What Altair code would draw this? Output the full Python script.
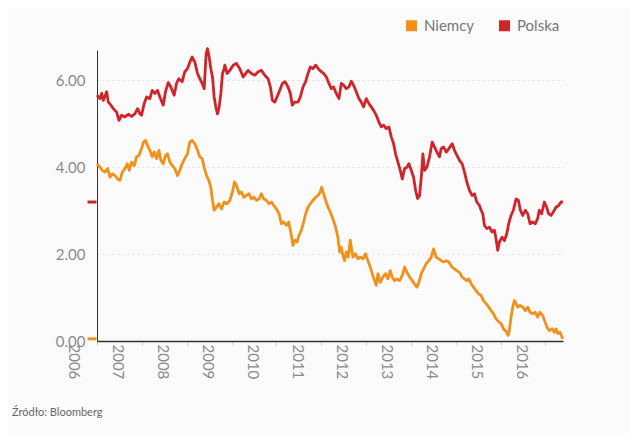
import altair as alt
import pandas as pd

# ---- data (decimal year, yield %) ----
pl_t = [2006.000, 2006.067, 2006.104, 2006.141, 2006.215, 2006.252, 2006.312, 2006.364, 2006.438, 2006.490,
        2006.549, 2006.624, 2006.698, 2006.772, 2006.846, 2006.906, 2006.958, 2006.995, 2007.054, 2007.106,
        2007.180, 2007.232, 2007.292, 2007.351, 2007.403, 2007.477, 2007.529, 2007.589, 2007.648, 2007.722,
        2007.774, 2007.826, 2007.901, 2007.960, 2008.019, 2008.071, 2008.123, 2008.183, 2008.242, 2008.294,
        2008.346, 2008.391, 2008.435, 2008.465, 2008.502, 2008.539, 2008.576, 2008.613, 2008.650, 2008.687,
        2008.725, 2008.762, 2008.799, 2008.836, 2008.850, 2008.902, 2008.962, 2009.036, 2009.110, 2009.184,
        2009.259, 2009.318, 2009.370, 2009.444, 2009.519, 2009.593, 2009.667, 2009.741, 2009.815, 2009.867,
        2009.912, 2009.964, 2010.016, 2010.075, 2010.135, 2010.194, 2010.261, 2010.313, 2010.357, 2010.409,
        2010.484, 2010.536, 2010.595, 2010.654, 2010.706, 2010.758, 2010.818, 2010.877, 2010.936, 2011.003,
        2011.055, 2011.115, 2011.174, 2011.226, 2011.278, 2011.337, 2011.397, 2011.449, 2011.501, 2011.560,
        2011.620, 2011.672, 2011.724, 2011.783, 2011.843, 2011.895, 2011.947, 2012.006, 2012.065, 2012.117,
        2012.169, 2012.229, 2012.288, 2012.340, 2012.392, 2012.451, 2012.511, 2012.563, 2012.615, 2012.659,
        2012.711, 2012.763, 2012.808, 2012.860, 2012.912, 2012.956, 2013.008, 2013.060, 2013.105, 2013.149,
        2013.194, 2013.238, 2013.268, 2013.305, 2013.357, 2013.416, 2013.476, 2013.528, 2013.580, 2013.639,
        2013.676, 2013.728, 2013.788, 2013.847, 2013.921, 2013.973, 2014.025, 2014.085, 2014.144, 2014.196,
        2014.248, 2014.307, 2014.367, 2014.419, 2014.471, 2014.530, 2014.567, 2014.604, 2014.642, 2014.693,
        2014.753, 2014.812, 2014.864, 2014.901, 2014.938, 2014.976, 2015.035, 2015.087, 2015.139, 2015.183,
        2015.235, 2015.287, 2015.347, 2015.399, 2015.443, 2015.495, 2015.555, 2015.607, 2015.659, 2015.718,
        2015.777, 2015.829, 2015.866, 2015.918, 2015.978, 2016.030, 2016.074, 2016.126, 2016.178, 2016.238,
        2016.297, 2016.349, 2016.394]
pl_v = [5.66, 5.58, 5.70, 5.54, 5.74, 5.50, 5.43, 5.35, 5.27, 5.08,
        5.20, 5.16, 5.22, 5.17, 5.23, 5.35, 5.23, 5.20, 5.47, 5.62,
        5.58, 5.77, 5.70, 5.77, 5.62, 5.43, 5.74, 5.95, 5.85, 5.66,
        5.93, 6.04, 5.97, 6.20, 6.27, 6.42, 6.54, 6.42, 6.16, 6.04,
        5.93, 5.81, 6.62, 6.73, 6.54, 6.27, 6.08, 5.62, 5.39, 5.23,
        5.39, 5.70, 6.16, 6.27, 6.35, 6.16, 6.23, 6.35, 6.39, 6.27,
        6.08, 6.16, 6.23, 6.16, 6.12, 6.20, 6.23, 6.12, 6.04, 5.85,
        5.54, 5.50, 5.62, 5.77, 5.93, 5.97, 5.85, 5.70, 5.43, 5.50,
        5.50, 5.62, 5.85, 5.97, 6.16, 6.31, 6.27, 6.35, 6.27, 6.20,
        6.16, 6.08, 5.93, 5.81, 5.85, 5.70, 5.58, 5.93, 5.89, 5.81,
        5.85, 5.98, 5.89, 5.74, 5.58, 5.50, 5.39, 5.58, 5.47, 5.39,
        5.31, 5.20, 5.04, 4.93, 4.97, 4.89, 4.93, 4.70, 4.54, 4.31,
        4.12, 3.93, 3.73, 3.97, 4.00, 4.08, 3.93, 3.77, 3.47, 3.28,
        3.35, 3.85, 4.31, 3.93, 4.00, 4.24, 4.58, 4.47, 4.35, 4.24,
        4.43, 4.47, 4.35, 4.43, 4.54, 4.39, 4.28, 4.16, 4.08, 3.89,
        3.66, 3.47, 3.35, 3.39, 3.20, 3.12, 3.01, 2.93, 2.66, 2.59,
        2.62, 2.51, 2.55, 2.35, 2.09, 2.28, 2.39, 2.31, 2.47, 2.70,
        2.89, 3.01, 3.27, 3.24, 3.01, 2.89, 3.01, 2.93, 2.70, 2.74,
        2.70, 2.82, 3.01, 2.93, 3.20, 3.08, 2.93, 2.89, 2.97, 3.08,
        3.12, 3.20, 3.20]

de_t = [2006.000, 2006.067, 2006.119, 2006.178, 2006.238, 2006.290, 2006.341, 2006.401, 2006.460, 2006.512,
        2006.564, 2006.624, 2006.676, 2006.720, 2006.772, 2006.831, 2006.883, 2006.935, 2006.995, 2007.039,
        2007.084, 2007.128, 2007.180, 2007.232, 2007.277, 2007.329, 2007.381, 2007.425, 2007.477, 2007.529,
        2007.574, 2007.626, 2007.678, 2007.737, 2007.797, 2007.849, 2007.901, 2007.960, 2008.019, 2008.071,
        2008.123, 2008.183, 2008.242, 2008.294, 2008.346, 2008.391, 2008.443, 2008.494, 2008.539, 2008.576,
        2008.613, 2008.665, 2008.717, 2008.777, 2008.836, 2008.902, 2008.962, 2009.021, 2009.066, 2009.110,
        2009.170, 2009.222, 2009.274, 2009.333, 2009.392, 2009.444, 2009.496, 2009.556, 2009.615, 2009.667,
        2009.719, 2009.778, 2009.838, 2009.890, 2009.942, 2010.001, 2010.060, 2010.112, 2010.164, 2010.224,
        2010.276, 2010.328, 2010.372, 2010.417, 2010.461, 2010.506, 2010.558, 2010.610, 2010.654, 2010.706,
        2010.758, 2010.818, 2010.877, 2010.929, 2010.981, 2011.011, 2011.055, 2011.100, 2011.152, 2011.204,
        2011.263, 2011.323, 2011.374, 2011.412, 2011.449, 2011.486, 2011.523, 2011.560, 2011.605, 2011.650,
        2011.679, 2011.709, 2011.768, 2011.820, 2011.872, 2011.932, 2011.991, 2012.043, 2012.095, 2012.140,
        2012.192, 2012.229, 2012.266, 2012.318, 2012.377, 2012.436, 2012.488, 2012.540, 2012.585, 2012.637,
        2012.689, 2012.748, 2012.808, 2012.860, 2012.912, 2012.971, 2013.030, 2013.082, 2013.134, 2013.179,
        2013.231, 2013.283, 2013.342, 2013.402, 2013.454, 2013.506, 2013.565, 2013.624, 2013.676, 2013.728,
        2013.788, 2013.847, 2013.921, 2013.973, 2014.025, 2014.085, 2014.144, 2014.196, 2014.248, 2014.293,
        2014.345, 2014.397, 2014.456, 2014.515, 2014.567, 2014.619, 2014.679, 2014.738, 2014.790, 2014.842,
        2014.901, 2014.961, 2015.013, 2015.065, 2015.109, 2015.139, 2015.169, 2015.198, 2015.235, 2015.273,
        2015.310, 2015.347, 2015.384, 2015.436, 2015.495, 2015.555, 2015.607, 2015.659, 2015.718, 2015.777,
        2015.829, 2015.881, 2015.941, 2015.993, 2016.037, 2016.089, 2016.149, 2016.201, 2016.238, 2016.283,
        2016.327, 2016.372, 2016.394]
de_v = [4.08, 4.00, 3.93, 3.89, 3.97, 3.77, 3.85, 3.81, 3.73, 3.70,
        3.89, 3.97, 4.08, 3.93, 4.12, 4.04, 4.24, 4.27, 4.43, 4.58,
        4.62, 4.50, 4.39, 4.24, 4.35, 4.20, 4.39, 4.16, 4.08, 4.27,
        4.31, 4.12, 4.04, 3.97, 3.81, 3.93, 4.08, 4.20, 4.31, 4.58,
        4.62, 4.54, 4.39, 4.24, 4.20, 4.00, 3.81, 3.70, 3.54, 3.24,
        3.01, 3.08, 3.16, 3.04, 3.20, 3.16, 3.24, 3.43, 3.66, 3.58,
        3.39, 3.43, 3.31, 3.35, 3.39, 3.27, 3.31, 3.24, 3.27, 3.39,
        3.27, 3.24, 3.16, 3.20, 3.12, 3.04, 2.93, 2.70, 2.74, 2.66,
        2.74, 2.47, 2.20, 2.32, 2.28, 2.43, 2.55, 2.74, 2.93, 3.08,
        3.16, 3.24, 3.31, 3.35, 3.43, 3.54, 3.39, 3.24, 3.08, 2.97,
        2.81, 2.62, 2.39, 2.05, 2.16, 1.97, 1.85, 2.05, 1.93, 2.32,
        2.12, 1.93, 2.01, 1.89, 1.93, 1.89, 2.01, 1.85, 1.70, 1.55,
        1.39, 1.28, 1.55, 1.35, 1.47, 1.55, 1.43, 1.62, 1.47, 1.39,
        1.43, 1.39, 1.51, 1.70, 1.58, 1.47, 1.39, 1.31, 1.24, 1.35,
        1.55, 1.66, 1.78, 1.85, 1.93, 2.12, 1.93, 1.89, 1.85, 1.82,
        1.85, 1.82, 1.70, 1.66, 1.62, 1.58, 1.47, 1.43, 1.39, 1.43,
        1.32, 1.24, 1.16, 1.08, 1.05, 0.93, 0.86, 0.78, 0.70, 0.63,
        0.51, 0.44, 0.40, 0.28, 0.24, 0.20, 0.13, 0.24, 0.55, 0.78,
        0.93, 0.86, 0.78, 0.82, 0.78, 0.70, 0.78, 0.66, 0.63, 0.66,
        0.55, 0.66, 0.59, 0.44, 0.32, 0.24, 0.28, 0.20, 0.28, 0.17,
        0.20, 0.09, 0.05]

series_names = ["Niemcy", "Polska"]
series_colors = ["#F39019", "#D2232A"]
year_ticks = list(range(2006, 2017))
source_text = "Źródło: Bloomberg"


def to_date(t):
    y = int(t)
    start = pd.Timestamp(year=y, month=1, day=1)
    end = pd.Timestamp(year=y + 1, month=1, day=1)
    return (start + (end - start) * (t - y)).strftime("%Y-%m-%dT%H:%M:%S")


rows = []
for name, ts, vs in [("Niemcy", de_t, de_v), ("Polska", pl_t, pl_v)]:
    for t, v in zip(ts, vs):
        rows.append({"date": to_date(t), "value": v, "series": name})
df = pd.DataFrame(rows)

last = pd.DataFrame([
    {"series": "Niemcy", "value": de_v[-1]},
    {"series": "Polska", "value": pl_v[-1]},
])

end_t = max(pl_t[-1], de_t[-1])
end_date = pd.Timestamp(to_date(end_t))

FONT = "Lato"

color = alt.Color(
    "series:N",
    scale=alt.Scale(domain=series_names, range=series_colors),
    legend=alt.Legend(
        title=None, orient="none", legendX=307, legendY=-32, direction="horizontal",
        symbolType="square", symbolSize=121, symbolStrokeWidth=0,
        labelFont=FONT, labelFontSize=15, labelColor="#777777",
        labelOffset=5, columnPadding=22,
    ),
)

x_axis = alt.Axis(
    values=[alt.DateTime(year=y, month=1, date=1) for y in year_ticks],
    format="%Y", labelAngle=90, labelAlign="left", labelBaseline="middle",
    labelPadding=-1, labelOffset=-24, labelFont=FONT, labelFontSize=15,
    labelColor="#8a8a8a", labelOverlap=False, labelBound=False, labelFlush=False,
    tickSize=4, tickColor="#cccccc", tickWidth=1,
    domainColor="#333333", domainWidth=1.5, grid=False, title=None,
)
x_scale = alt.Scale(domain=[alt.DateTime(year=2006, month=1, date=1),
                            alt.DateTime(year=end_date.year, month=end_date.month, date=end_date.day)])

y_axis = alt.Axis(
    values=[0, 2, 4, 6], format=".2f", labelFont=FONT, labelFontSize=15,
    labelColor="#8a8a8a", labelPadding=12, ticks=False,
    domainColor="#333333", domainWidth=1,
    grid=True, gridColor="#dddddd", gridDash=[2, 3], gridWidth=1, title=None,
)
y_scale = alt.Scale(domain=[0, 6.7], nice=False, zero=True)

markers = alt.Chart(last).mark_tick(
    orient="horizontal", size=9, thickness=3, opacity=1, filled=True
).encode(
    x=alt.value(-5),
    y=alt.Y("value:Q", scale=y_scale, axis=y_axis),
    color=color,
)

lines = alt.Chart(df).mark_line(strokeWidth=2.8, strokeJoin="round").encode(
    x=alt.X("date:T", scale=x_scale, axis=x_axis),
    y=alt.Y("value:Q", scale=y_scale, axis=y_axis),
    color=color,
)

source = alt.Chart(pd.DataFrame({"src": [source_text]})).mark_text(
    align="left", baseline="alphabetic", font=FONT, fontSize=11, color="#666666"
).encode(
    x=alt.value(-85), y=alt.value(366), text="src:N"
)

chart = alt.layer(markers, lines, source).properties(
    width=466, height=291,
    padding={"left": 89, "top": 42, "right": 67, "bottom": 93},
    autosize="none",
    background="#fbfbfb",
).configure_view(stroke=None)

chart.save("out.html", embed_options={"renderer": "svg", "actions": False})
